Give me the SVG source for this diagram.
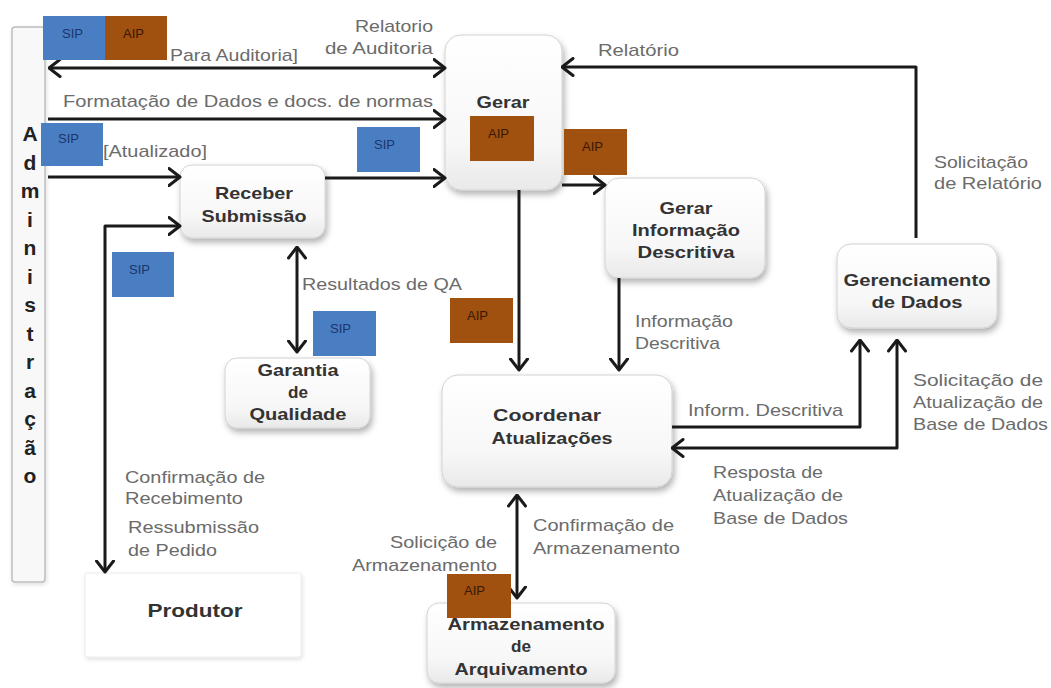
<svg xmlns="http://www.w3.org/2000/svg" width="1051" height="688" viewBox="0 0 1051 688">
<defs>
<style>
.lbl{font-family:"Liberation Sans",Arial,sans-serif;font-size:17px;fill:#6b6b6b}
.nt{font-family:"Liberation Sans",Arial,sans-serif;font-size:17px;font-weight:bold;fill:#333;text-anchor:middle}
.adm{font-family:"Liberation Sans",Arial,sans-serif;font-size:21px;font-weight:bold;fill:#222;text-anchor:middle}
.node{fill:url(#ng);stroke:#d2d2d2;stroke-width:1;filter:url(#sh)}
.conn{fill:none;stroke:#1a1a1a;stroke-width:3;stroke-linejoin:round}
.sip{fill:#4a7ec2}
.aip{fill:#a0500f}
.bt{font-family:"Liberation Sans",Arial,sans-serif;font-size:12px}
.sipt{fill:#1c356b}
.aipt{fill:#3a1804}
</style>
<linearGradient id="ng" x1="0" y1="0" x2="0" y2="1">
<stop offset="0" stop-color="#ffffff"/>
<stop offset="0.7" stop-color="#f7f7f7"/>
<stop offset="1" stop-color="#e9e9e9"/>
</linearGradient>
<filter id="sh" x="-20%" y="-20%" width="140%" height="150%">
<feDropShadow dx="2" dy="4" stdDeviation="3" flood-color="#000" flood-opacity="0.3"/>
</filter>
<filter id="sh2" x="-20%" y="-20%" width="140%" height="150%">
<feDropShadow dx="1" dy="2" stdDeviation="2" flood-color="#000" flood-opacity="0.12"/>
</filter>
<marker id="ah" viewBox="0 0 14 20" refX="12.5" refY="10" markerWidth="14" markerHeight="20" markerUnits="userSpaceOnUse" orient="auto-start-reverse">
<path d="M1.5,1.5 L12.5,10 L1.5,18.5" fill="none" stroke="#1a1a1a" stroke-width="3" stroke-linecap="round" stroke-linejoin="round"/>
</marker>
</defs>
<rect width="1051" height="688" fill="#ffffff"/>

<g id="administracao">
<rect x="12" y="27" width="33" height="555" rx="3" fill="#f8f8f8" stroke="#bdbdbd" stroke-width="1.5" filter="url(#sh2)"/>
<text class="adm"><tspan x="30" y="141">A</tspan><tspan x="30" y="169.5">d</tspan><tspan x="30" y="198">m</tspan><tspan x="30" y="226.5">i</tspan><tspan x="30" y="255">n</tspan><tspan x="30" y="283.5">i</tspan><tspan x="30" y="312">s</tspan><tspan x="30" y="340.5">t</tspan><tspan x="30" y="369">r</tspan><tspan x="30" y="397.5">a</tspan><tspan x="30" y="426">ç</tspan><tspan x="30" y="454.5">ã</tspan><tspan x="30" y="483">o</tspan></text>
</g>

<g id="produtor">
<rect x="85" y="573" width="216" height="84" rx="2" fill="#ffffff" stroke="#ececec" stroke-width="1" filter="url(#sh2)"/>
<text class="nt" x="195" y="617" style="font-size:19px" textLength="95" lengthAdjust="spacingAndGlyphs">Produtor</text>
</g>

<g id="receber">
<rect class="node" x="180" y="165" width="145" height="73" rx="12"/>
<text class="nt" x="254" y="199" textLength="78" lengthAdjust="spacingAndGlyphs">Receber</text>
<text class="nt" x="254" y="222" textLength="105" lengthAdjust="spacingAndGlyphs">Submissão</text>
</g>

<g id="gerar">
<rect class="node" x="445" y="35" width="117" height="155" rx="16"/>
<text class="nt" x="503" y="108" textLength="53" lengthAdjust="spacingAndGlyphs">Gerar</text>
</g>

<g id="gerar-informacao">
<rect class="node" x="605" y="178" width="160" height="100" rx="14"/>
<text class="nt" x="686" y="214" textLength="53" lengthAdjust="spacingAndGlyphs">Gerar</text>
<text class="nt" x="686" y="236" textLength="108" lengthAdjust="spacingAndGlyphs">Informação</text>
<text class="nt" x="686" y="258" textLength="97" lengthAdjust="spacingAndGlyphs">Descritiva</text>
</g>

<g id="gerenciamento">
<rect class="node" x="837" y="244" width="160" height="84" rx="14"/>
<text class="nt" x="917" y="286" textLength="147" lengthAdjust="spacingAndGlyphs">Gerenciamento</text>
<text class="nt" x="917" y="308" textLength="91" lengthAdjust="spacingAndGlyphs">de Dados</text>
</g>

<g id="garantia">
<rect class="node" x="225" y="358" width="145" height="70" rx="12"/>
<text class="nt" x="298" y="376" textLength="81" lengthAdjust="spacingAndGlyphs">Garantia</text>
<text class="nt" x="298" y="398" textLength="20" lengthAdjust="spacingAndGlyphs">de</text>
<text class="nt" x="298" y="420" textLength="97" lengthAdjust="spacingAndGlyphs">Qualidade</text>
</g>

<g id="coordenar">
<rect class="node" x="442" y="375" width="230" height="112" rx="16"/>
<text class="nt" x="547" y="421" textLength="108" lengthAdjust="spacingAndGlyphs">Coordenar</text>
<text class="nt" x="552" y="444" textLength="121" lengthAdjust="spacingAndGlyphs">Atualizações</text>
</g>

<g id="armazenamento">
<rect class="node" x="427" y="603" width="188" height="80" rx="12"/>
<text class="nt" x="526" y="630" textLength="157" lengthAdjust="spacingAndGlyphs">Armazenamento</text>
<text class="nt" x="521" y="652" textLength="20" lengthAdjust="spacingAndGlyphs">de</text>
<text class="nt" x="521" y="675" textLength="133" lengthAdjust="spacingAndGlyphs">Arquivamento</text>
</g>

<g id="connectors">
<path class="conn" d="M49,68 H445" marker-start="url(#ah)" marker-end="url(#ah)"/>
<path class="conn" d="M48,119 H445" marker-end="url(#ah)"/>
<path class="conn" d="M48,177 H180" marker-end="url(#ah)"/>
<path class="conn" d="M325,178 H445" marker-end="url(#ah)"/>
<path class="conn" d="M105,572 V226 H180" marker-start="url(#ah)" marker-end="url(#ah)"/>
<path class="conn" d="M297,247 V352" marker-start="url(#ah)" marker-end="url(#ah)"/>
<path class="conn" d="M562,185 H605" marker-end="url(#ah)"/>
<path class="conn" d="M916,238 V67 H562" marker-end="url(#ah)"/>
<path class="conn" d="M519,190 V370" marker-end="url(#ah)"/>
<path class="conn" d="M619,278 V370" marker-end="url(#ah)"/>
<path class="conn" d="M672,427 H860 V340" marker-end="url(#ah)"/>
<path class="conn" d="M897,340 V448 H672" marker-start="url(#ah)" marker-end="url(#ah)"/>
<path class="conn" d="M517,495 V598" marker-start="url(#ah)" marker-end="url(#ah)"/>
</g>

<g id="labels">
<text class="lbl" x="433" y="32" text-anchor="end" textLength="78" lengthAdjust="spacingAndGlyphs">Relatorio</text>
<text class="lbl" x="433" y="54" text-anchor="end" textLength="108" lengthAdjust="spacingAndGlyphs">de Auditoria</text>
<text class="lbl" x="170" y="61" textLength="128" lengthAdjust="spacingAndGlyphs">Para Auditoria]</text>
<text class="lbl" x="63" y="107" textLength="370" lengthAdjust="spacingAndGlyphs">Formatação de Dados e docs. de normas</text>
<text class="lbl" x="103" y="157" textLength="104" lengthAdjust="spacingAndGlyphs">[Atualizado]</text>
<text class="lbl" x="598" y="56" textLength="81" lengthAdjust="spacingAndGlyphs">Relatório</text>
<text class="lbl" x="934" y="168" textLength="94" lengthAdjust="spacingAndGlyphs">Solicitação</text>
<text class="lbl" x="934" y="189" textLength="108" lengthAdjust="spacingAndGlyphs">de Relatório</text>
<text class="lbl" x="302" y="290" textLength="160" lengthAdjust="spacingAndGlyphs">Resultados de QA</text>
<text class="lbl" x="635" y="327" textLength="98" lengthAdjust="spacingAndGlyphs">Informação</text>
<text class="lbl" x="635" y="349" textLength="85" lengthAdjust="spacingAndGlyphs">Descritiva</text>
<text class="lbl" x="688" y="416" textLength="155" lengthAdjust="spacingAndGlyphs">Inform. Descritiva</text>
<text class="lbl" x="913" y="386" textLength="130" lengthAdjust="spacingAndGlyphs">Solicitação de</text>
<text class="lbl" x="913" y="408" textLength="130" lengthAdjust="spacingAndGlyphs">Atualização de</text>
<text class="lbl" x="913" y="430" textLength="135" lengthAdjust="spacingAndGlyphs">Base de Dados</text>
<text class="lbl" x="713" y="478" textLength="110" lengthAdjust="spacingAndGlyphs">Resposta de</text>
<text class="lbl" x="713" y="501" textLength="130" lengthAdjust="spacingAndGlyphs">Atualização de</text>
<text class="lbl" x="713" y="524" textLength="135" lengthAdjust="spacingAndGlyphs">Base de Dados</text>
<text class="lbl" x="533" y="531" textLength="141" lengthAdjust="spacingAndGlyphs">Confirmação de</text>
<text class="lbl" x="533" y="554" textLength="147" lengthAdjust="spacingAndGlyphs">Armazenamento</text>
<text class="lbl" x="497" y="548" text-anchor="end" textLength="107" lengthAdjust="spacingAndGlyphs">Solicição de</text>
<text class="lbl" x="497" y="571" text-anchor="end" textLength="145" lengthAdjust="spacingAndGlyphs">Armazenamento</text>
<text class="lbl" x="125" y="483" textLength="140" lengthAdjust="spacingAndGlyphs">Confirmação de</text>
<text class="lbl" x="125" y="504" textLength="118" lengthAdjust="spacingAndGlyphs">Recebimento</text>
<text class="lbl" x="128" y="533" textLength="131" lengthAdjust="spacingAndGlyphs">Ressubmissão</text>
<text class="lbl" x="128" y="556" textLength="89" lengthAdjust="spacingAndGlyphs">de Pedido</text>
</g>

<g id="packages">
<rect class="sip" x="43" y="16" width="62" height="44"/>
<text class="bt sipt" x="62" y="38" textLength="21" lengthAdjust="spacingAndGlyphs">SIP</text>
<rect class="aip" x="105" y="16" width="62" height="44"/>
<text class="bt aipt" x="123" y="38" textLength="21" lengthAdjust="spacingAndGlyphs">AIP</text>
<rect class="sip" x="41" y="123" width="62" height="43"/>
<text class="bt sipt" x="58" y="143" textLength="21" lengthAdjust="spacingAndGlyphs">SIP</text>
<rect class="sip" x="357" y="127" width="63" height="45"/>
<text class="bt sipt" x="374" y="149" textLength="21" lengthAdjust="spacingAndGlyphs">SIP</text>
<rect class="sip" x="112" y="252" width="62" height="45"/>
<text class="bt sipt" x="129" y="274" textLength="21" lengthAdjust="spacingAndGlyphs">SIP</text>
<rect class="sip" x="313" y="311" width="63" height="45"/>
<text class="bt sipt" x="330" y="333" textLength="21" lengthAdjust="spacingAndGlyphs">SIP</text>
<rect class="aip" x="470" y="116" width="64" height="45"/>
<text class="bt aipt" x="488" y="138" textLength="21" lengthAdjust="spacingAndGlyphs">AIP</text>
<rect class="aip" x="564" y="129" width="63" height="46"/>
<text class="bt aipt" x="582" y="151" textLength="21" lengthAdjust="spacingAndGlyphs">AIP</text>
<rect class="aip" x="450" y="298" width="63" height="45"/>
<text class="bt aipt" x="467" y="320" textLength="21" lengthAdjust="spacingAndGlyphs">AIP</text>
<rect class="aip" x="447" y="574" width="64" height="44"/>
<text class="bt aipt" x="464" y="595" textLength="21" lengthAdjust="spacingAndGlyphs">AIP</text>
</g>
</svg>
